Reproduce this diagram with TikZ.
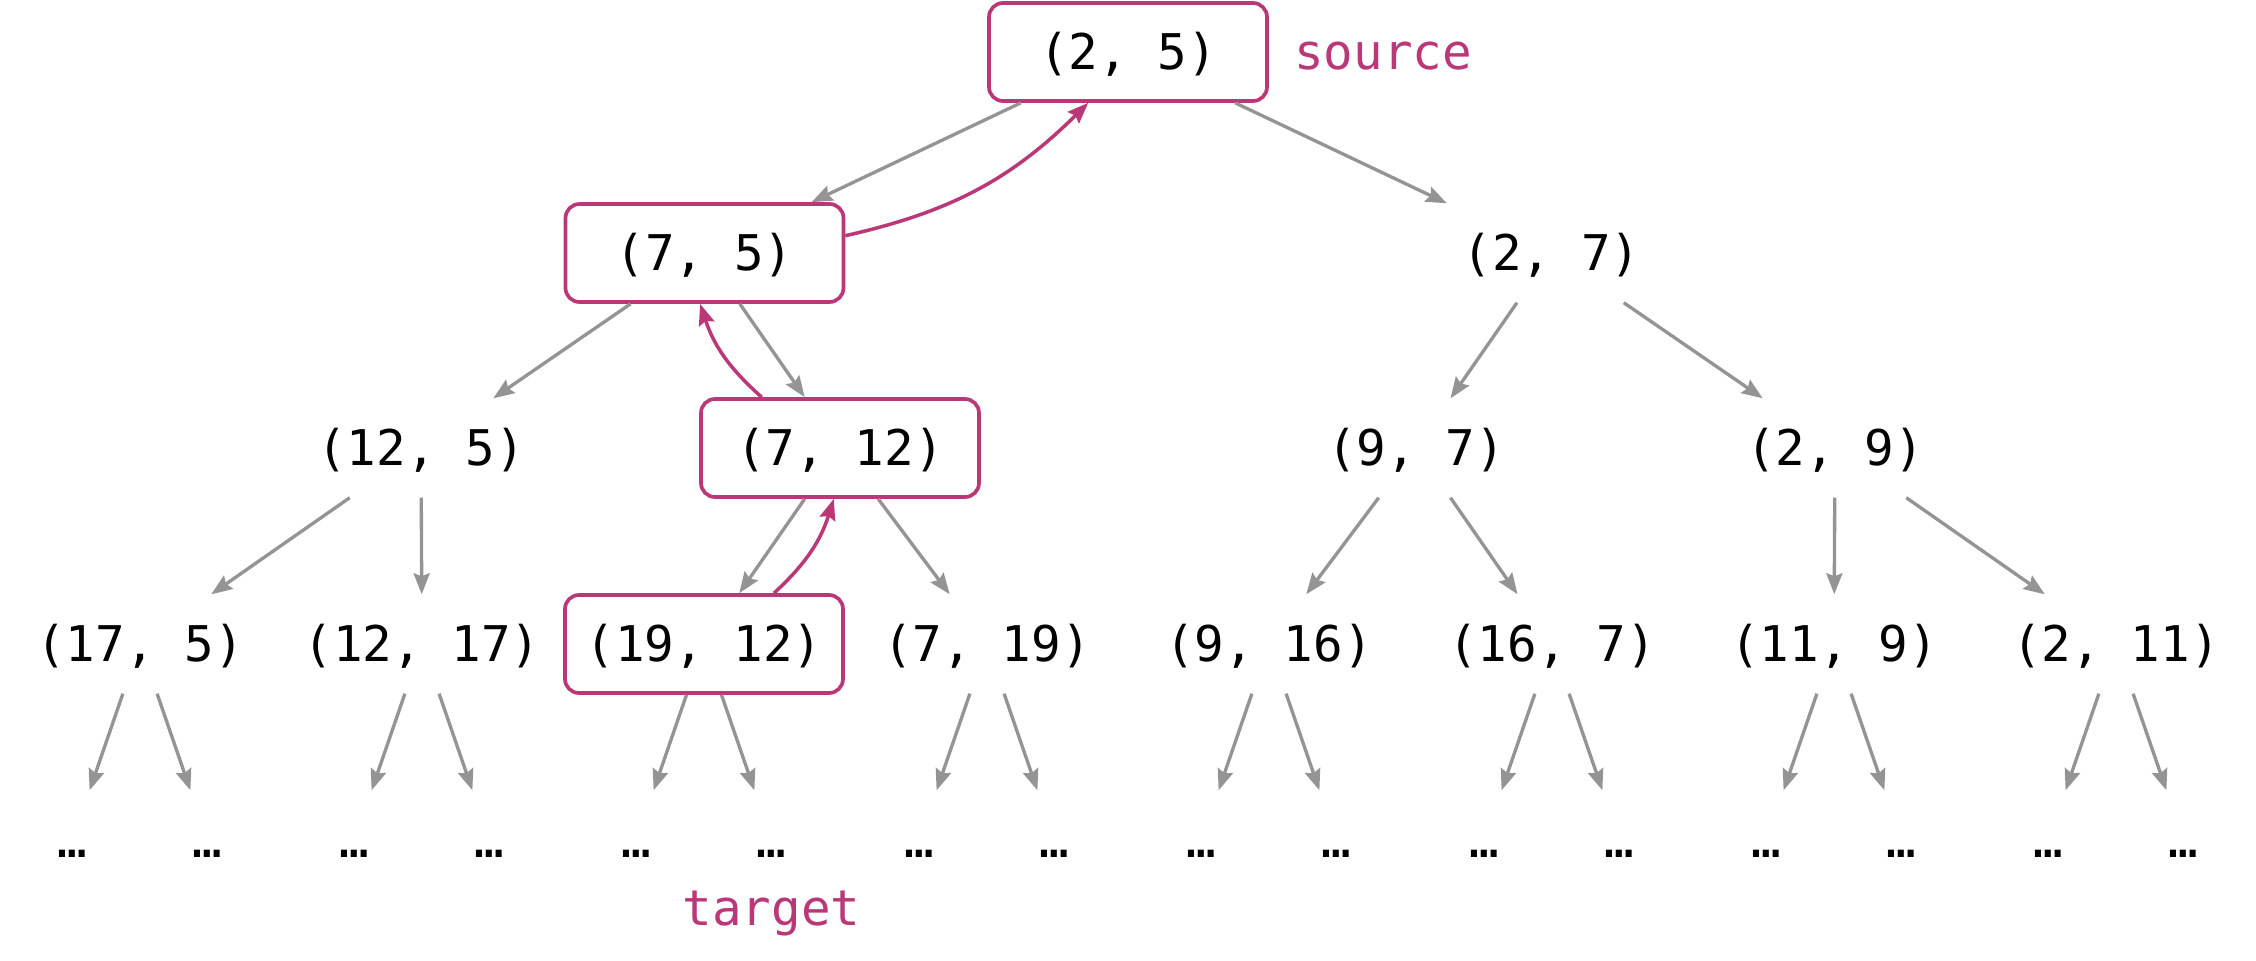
\documentclass[tikz,border=0pt]{standalone}
\usepackage{fontspec}
\setmonofont{DejaVu Sans Mono}
\usepackage{tikz}
\usetikzlibrary{arrows.meta,positioning}

\definecolor{edgegray}{RGB}{148,148,148}
\definecolor{pathpink}{RGB}{186,56,120}

\tikzset{
  pair/.style={minimum width=2.78cm, minimum height=0.98cm,
               font=\fontsize{14}{16}\selectfont\ttfamily,
               text height=0.4cm, text depth=0.06cm},
  onpath/.style={pair, draw=pathpink, line width=1.05pt, rounded corners=0.14cm},
  leafdots/.style={pair, minimum width=0.8cm},
  tag/.style={font=\fontsize{14}{16}\selectfont\ttfamily, text=pathpink,
              text height=0.4cm, text depth=0.06cm},
  link/.style={draw=edgegray, line width=0.95pt,
               -{Stealth[length=2.1mm,width=1.6mm,inset=0.3mm]}},
  back/.style={draw=pathpink, line width=1pt,
               -{Stealth[length=2.1mm,width=1.6mm,inset=0.3mm]}}
}

\begin{document}
\begin{tikzpicture}
\useasboundingbox (0,0) rectangle (22.56,9.6);
%\draw[help lines] (0,0) grid (22,9);

% Define the rows of the tree
\pgfmathsetmacro{\Yroot}{9.08};
\pgfmathsetmacro{\Ytwo}{7.07};
\pgfmathsetmacro{\Ythree}{5.12};
\pgfmathsetmacro{\Yfour}{3.16};

% root and second row
\node[onpath] (n2x5) at (11.28,\Yroot) {(2, 5)};
\node[tag, right=0.13cm of n2x5] (srclbl) {source};

\node[onpath] (n7x5) at (7.045,\Ytwo) {(7, 5)};
\node[pair]   (n2x7) at (15.515,\Ytwo) {(2, 7)};

% third row
\node[pair]   (n12x5) at (4.21,\Ythree) {(12, 5)};
\node[onpath] (n7x12) at (8.40,\Ythree) {(7, 12)};
\node[pair]   (n9x7)  at (14.16,\Ythree) {(9, 7)};
\node[pair]   (n2x9)  at (18.35,\Ythree) {(2, 9)};

% fourth row
\node[pair]   (n17x5)  at (1.40,\Yfour)  {(17, 5)};
\node[pair]   (n12x17) at (4.22,\Yfour)  {(12, 17)};
\node[onpath] (n19x12) at (7.04,\Yfour)  {(19, 12)};
\node[pair]   (n7x19)  at (9.87,\Yfour)  {(7, 19)};
\node[pair]   (n9x16)  at (12.69,\Yfour) {(9, 16)};
\node[pair]   (n16x7)  at (15.52,\Yfour) {(16, 7)};
\node[pair]   (n11x9)  at (18.34,\Yfour) {(11, 9)};
\node[pair]   (n2x11)  at (21.16,\Yfour) {(2, 11)};

% draw the tree edges
\draw[link] (n2x5) -- (n7x5);
\draw[link] (n2x5) -- (n2x7);
\draw[link] (n7x5) -- (n12x5);
\draw[link] (n7x5) -- (n7x12);
\draw[link] (n2x7) -- (n9x7);
\draw[link] (n2x7) -- (n2x9);
\draw[link] (n12x5) -- (n17x5);
\draw[link] (n12x5) -- (n12x17);
\draw[link] (n7x12) -- (n19x12);
\draw[link] (n7x12) -- (n7x19);
\draw[link] (n9x7) -- (n9x16);
\draw[link] (n9x7) -- (n16x7);
\draw[link] (n2x9) -- (n11x9);
\draw[link] (n2x9) -- (n2x11);

% the unexpanded leaves
\foreach \nd in {n17x5,n12x17,n19x12,n7x19,n9x16,n16x7,n11x9,n2x11}{
  \path (\nd) ++(-0.675,-1.96) node[leafdots] (\nd-l) {…};
  \path (\nd) ++(0.675,-1.96) node[leafdots] (\nd-r) {…};
  \draw[link] (\nd) -- (\nd-l);
  \draw[link] (\nd) -- (\nd-r);
}
\node[tag, anchor=base] (tgtlbl) at ([yshift=-0.68cm]n19x12-r.base) {target};

%%%%%%%%%%%%%%%%%%%%%%%%%%%%%%%%%%%%%%%%%%%%%%%%%%%%%%%%%%%%%%%%%%%%%%%%%%%%
% path back to the source
\draw[back] (n19x12.36) to[bend right=15] (n7x12.263);
\draw[back] (n7x12.147) to[bend left=15] (n7x5.265);
\draw[back] (n7x5.7) to[bend right=16] (n2x5.232);
\end{tikzpicture}
\end{document}
